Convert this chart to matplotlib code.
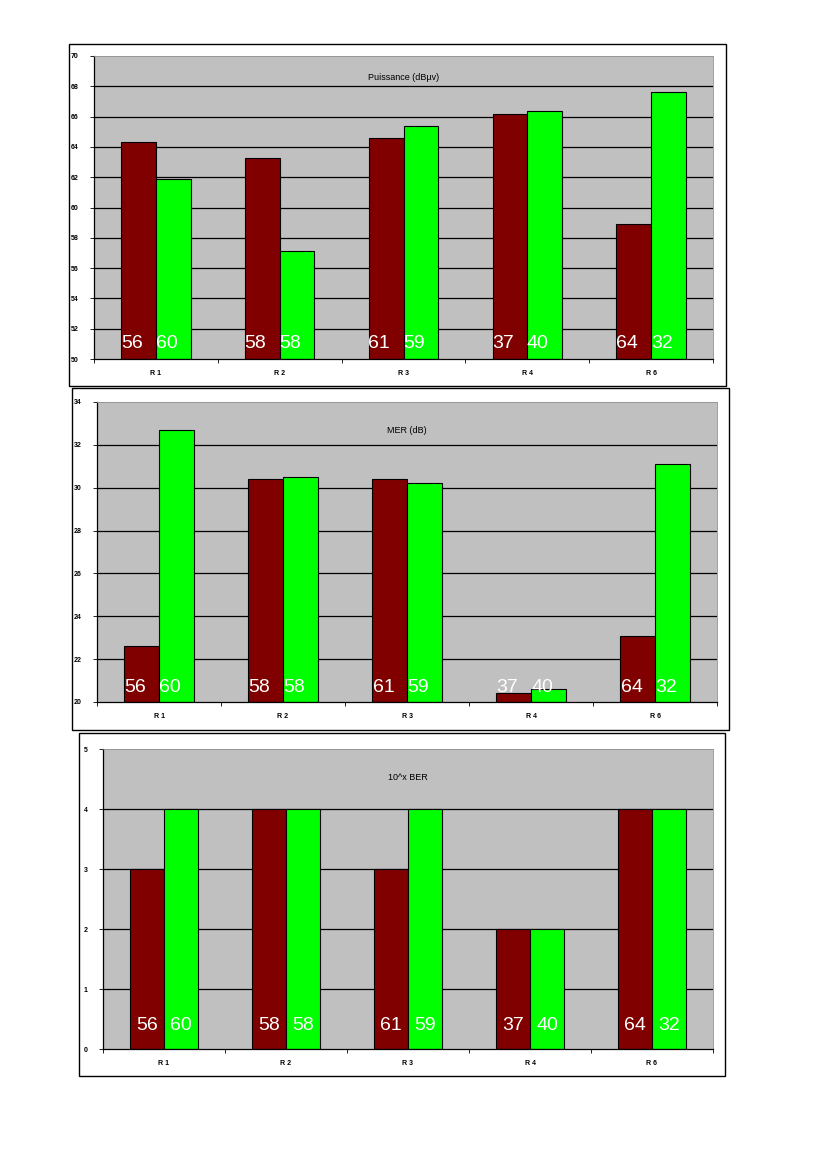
import matplotlib
matplotlib.use("Agg")
import matplotlib.pyplot as plt
from matplotlib.patches import Rectangle
import numpy as np

plt.rcParams["font.family"] = ["Liberation Sans", "DejaVu Sans"]

categories = ["R1", "R2", "R3", "R4", "R6"]
red_labels = [56, 58, 61, 37, 64]
green_labels = [60, 58, 59, 40, 32]

puissance_red = [64.3, 63.3, 64.6, 66.2, 58.9]
puissance_green = [61.9, 57.1, 65.4, 66.4, 67.6]

mer_red = [22.6, 30.4, 30.4, 20.4, 23.1]
mer_green = [32.7, 30.5, 30.2, 20.6, 31.1]

ber_red = [3, 4, 3, 2, 4]
ber_green = [4, 4, 4, 2, 4]

titles = ["Puissance (dBµv)", "MER (dB)", "10^x BER"]

W, H = 826, 1169
fig = plt.figure(figsize=(W / 100, H / 100), dpi=100)
fig.patch.set_facecolor("white")

RED = "#800000"
GREEN = "#00FF00"
GRAY = "#C0C0C0"

panels = [
    dict(frame=(69, 44, 726, 386), ax=(94, 56, 713, 359), ylim=(50, 70), step=2,
         red=puissance_red, green=puissance_green, title_y=78, label_off=16, dx=-0.055),
    dict(frame=(72, 388, 729, 730), ax=(97, 402, 717, 702), ylim=(20, 34), step=2,
         red=mer_red, green=mer_green, title_y=431, label_off=14, dx=-0.05),
    dict(frame=(79, 733, 725, 1076), ax=(103, 749, 713, 1049), ylim=(0, 5), step=1,
         red=ber_red, green=ber_green, title_y=778, label_off=23, dx=0.0),
]

x = np.arange(len(categories))
bw = 0.28

for p, title in zip(panels, titles):
    fx0, fy0, fx1, fy1 = p["frame"]
    fig.add_artist(Rectangle((fx0 / W, 1 - fy1 / H), (fx1 - fx0) / W, (fy1 - fy0) / H,
                             transform=fig.transFigure, fill=False, edgecolor="black",
                             linewidth=1.0))
    ax0, ay0, ax1, ay1 = p["ax"]
    ax = fig.add_axes([ax0 / W, 1 - ay1 / H, (ax1 - ax0) / W, (ay1 - ay0) / H])
    ax.set_facecolor(GRAY)
    lo, hi = p["ylim"]
    ax.set_ylim(lo, hi)
    ax.set_xlim(-0.5, len(categories) - 0.5)
    yt = np.arange(lo, hi + 0.01, p["step"])
    ax.set_yticks(yt)
    ax.set_yticklabels([str(int(v)) for v in yt], fontsize=5, fontweight="bold")
    for v in np.arange(lo + p["step"], hi, p["step"]):
        ax.axhline(v, color="black", linewidth=0.9, zorder=1)
    ax.bar(x - bw / 2, np.array(p["red"]) - lo, bw, bottom=lo, color=RED,
           edgecolor="black", linewidth=0.8, zorder=2)
    ax.bar(x + bw / 2, np.array(p["green"]) - lo, bw, bottom=lo, color=GREEN,
           edgecolor="black", linewidth=0.8, zorder=2)
    ax.set_xticks(np.arange(-0.5, len(categories), 1.0))
    ax.set_xticklabels([])
    ax.set_xticks(x, minor=True)
    ax.set_xticklabels([c[0] + " " + c[1:] for c in categories], minor=True,
                       fontsize=5, fontweight="bold")
    ax.tick_params(axis="x", which="minor", length=0, pad=8)
    ax.tick_params(axis="x", which="major", length=3, width=0.6, direction="out")
    ax.tick_params(axis="y", length=3, width=0.6, direction="out", pad=8)
    for s in ["top", "right"]:
        ax.spines[s].set_color("#909090")
        ax.spines[s].set_linewidth(0.6)
    for s in ["left", "bottom"]:
        ax.spines[s].set_color("black")
        ax.spines[s].set_linewidth(0.9)
    ax.text(0.5, 1 - (p["title_y"] - ay0) / (ay1 - ay0), title, transform=ax.transAxes,
            ha="center", va="center", fontsize=6.5)
    ly = 1 - (ay1 - ay0 - p["label_off"]) / (ay1 - ay0)
    for i in range(len(categories)):
        ax.text(x[i] - bw / 2 + p["dx"], lo + (hi - lo) * ly, str(red_labels[i]),
                ha="center", va="center", color="white", fontsize=14, zorder=5)
        ax.text(x[i] + bw / 2 + p["dx"], lo + (hi - lo) * ly, str(green_labels[i]),
                ha="center", va="center", color="white", fontsize=14, zorder=5)

fig.savefig("out.png", dpi=100, facecolor="white")
